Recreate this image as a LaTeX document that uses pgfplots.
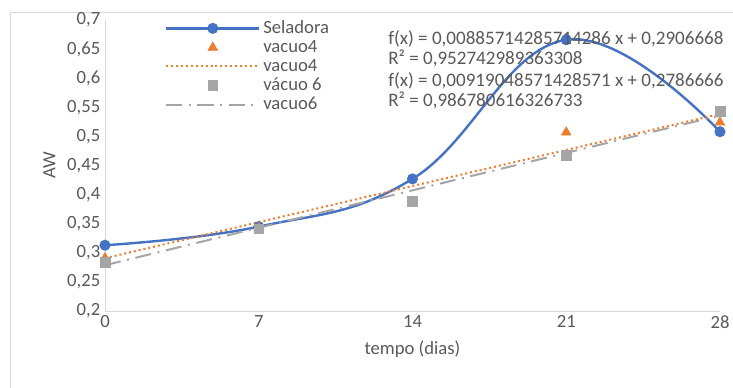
\documentclass[border=0pt]{standalone}
\usepackage{pgfplots}
\pgfplotsset{compat=1.18}
\usepackage{fontspec}
\setmainfont{Carlito}
\definecolor{cblue}{HTML}{4472C4}
\definecolor{corange}{HTML}{ED7D31}
\definecolor{cgray}{HTML}{A5A5A5}
\definecolor{ctext}{HTML}{595959}
\definecolor{caxis}{HTML}{D9D9D9}
\begin{document}
\begin{tikzpicture}[x=0.75pt,y=0.75pt]
\path[use as bounding box] (0,0) rectangle (733,388);
\draw[caxis,line width=0.6pt] (10,0) -- (10,376) -- (733,376);
\begin{axis}[
  at={(78.75pt,57.75pt)}, anchor=south west,
  scale only axis, width=461.25pt, height=218.25pt,
  xmin=0, xmax=28, ymin=0.2, ymax=0.7,
  xtick={0,7,14,21,28},
  ytick={0.2,0.25,...,0.71},
  axis lines=left,
  axis line style={caxis,-},
  major tick length=0pt,
  tick label style={font=\fontsize{14}{16}\selectfont, text=ctext},
  /pgf/number format/assume math mode=true,
  yticklabel style={/pgf/number format/.cd,use comma,fixed,precision=2},
  xlabel={tempo (dias)}, ylabel={AW},
  label style={font=\fontsize{14}{16}\selectfont, text=ctext},
  xlabel style={yshift=-2pt},
  ylabel style={yshift=2pt},
  clip=false,
  legend style={draw=none, fill=none, at={(0.097,1.007)}, anchor=north west,
    font=\fontsize{14}{15}\selectfont, text=ctext, row sep=-0.5pt, inner sep=0pt},
  legend cell align=left,
  legend image code/.code={\draw[mark repeat=2,mark phase=2] plot coordinates {(0pt,0pt)(35pt,0pt)(70pt,0pt)};},
]
\addplot[cblue, line width=1.8pt, smooth, tension=0.7, mark=*, mark size=3.2pt, mark options={fill=cblue}]
  coordinates {(0,0.313)(7,0.345)(14,0.427)(21,0.666)(28,0.508)};
\addlegendentry{Seladora}
\addplot[only marks, mark=triangle*, mark size=4.2pt, color=corange, fill=corange]
  coordinates {(0,0.291)(7,0.343)(14,0.388)(21,0.507)(28,0.524)};
\addlegendentry{vacuo4}
\addplot[corange, line width=1.5pt, dash pattern=on 1.5pt off 2.2pt]
  coordinates {(0,0.2906668)(28,0.5386668)};
\addlegendentry{vacuo4}
\addplot[only marks, mark=square*, mark size=3.6pt, color=cgray, fill=cgray]
  coordinates {(0,0.284)(7,0.341)(14,0.389)(21,0.468)(28,0.543)};
\addlegendentry{vácuo 6}
\addplot[cgray, line width=1.5pt, dash pattern=on 12pt off 5pt on 1.5pt off 5pt]
  coordinates {(0,0.2786666)(28,0.5360000)};
\addlegendentry{vacuo6}
\end{axis}
\node[anchor=north west, text=ctext, font=\fontsize{14.3}{15.5}\selectfont, align=left, inner sep=0pt]
  at (388,388-30) {f(x) = 0,00885714285714286 x + 0,2906668\\R² = 0,952742989363308};
\node[anchor=north west, text=ctext, font=\fontsize{14.3}{15.5}\selectfont, align=left, inner sep=0pt]
  at (388,388-72) {f(x) = 0,00919048571428571 x + 0,2786666\\R² = 0,986780616326733};
\end{tikzpicture}
\end{document}
